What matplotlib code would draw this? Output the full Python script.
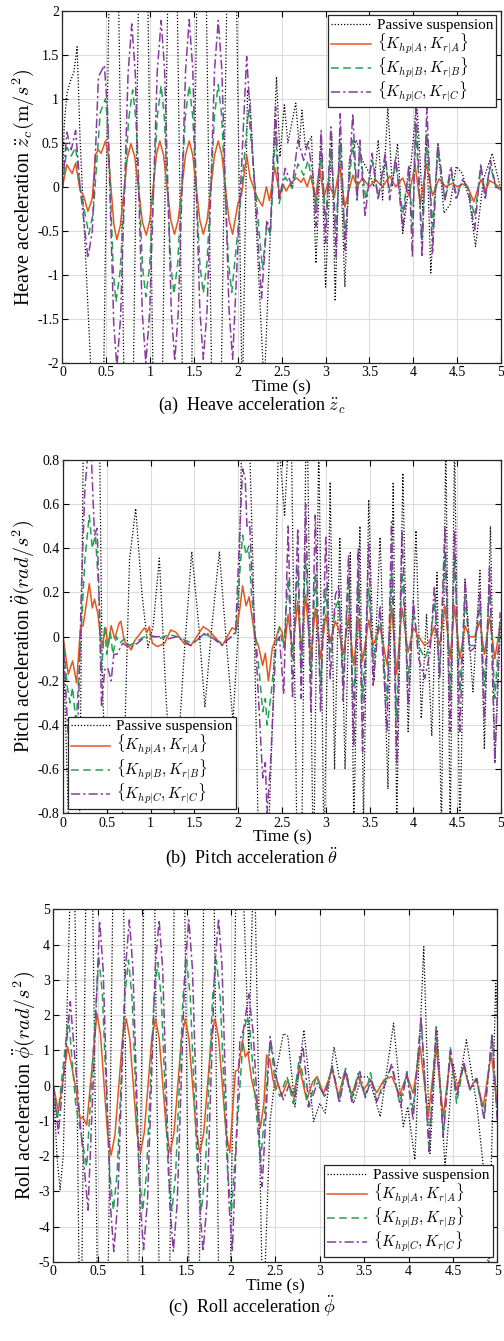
import numpy as np
import matplotlib
matplotlib.use('Agg')
from matplotlib import pyplot as plt
from matplotlib.ticker import FuncFormatter

plt.rcParams['font.family'] = ['Liberation Serif', 'DejaVu Serif']
plt.rcParams['mathtext.fontset'] = 'cm'
plt.rcParams['axes.unicode_minus'] = False

# ---- heave acceleration (m/s^2), (time, value) ----
heave_passive = [(0, 0), (0.02, 0.7), (0.05, 1.06), (0.09, 1.2), (0.13, 1.3), (0.167, 1.59), (0.2, 0.55),
                 (0.32, -2.0), (0.415, -6), (0.585, 6), (0.755, -6), (0.92, 6), (1.085, -6), (1.255, 6),
                 (1.42, -6), (1.585, 6), (1.755, -6), (1.93, 6), (2.05, -2.5), (2.11, 1.1), (2.14, 0.98),
                 (2.3, -2.3), (2.44, 1.25), (2.48, 0.34), (2.53, 0.93), (2.57, 0.5), (2.66, 0.95), (2.7, 0.45),
                 (2.73, 0.87), (2.77, 0.45), (2.84, 0.57), (2.89, -0.87), (2.95, 0.53), (3.0, -1.14),
                 (3.07, 0.6), (3.11, -1.3), (3.16, 0.55), (3.22, -1.14), (3.27, 0.3), (3.35, 0.53),
                 (3.42, 0.3), (3.5, 0.15), (3.55, 0.0), (3.6, 0.53), (3.65, -0.15), (3.71, 0.91), (3.76, 0.0),
                 (3.82, 0.49), (3.88, -0.53), (3.95, 0.0), (4.04, 0.98), (4.11, -0.3), (4.15, 0.6),
                 (4.2, -0.98), (4.28, 0.49), (4.35, -0.3), (4.42, -0.2), (4.49, 0.23), (4.56, 0.15),
                 (4.64, -0.15), (4.71, -0.68), (4.8, 0.08), (4.9, 0.38), (4.99, 0.0)]
heave_A = [(0, 0), (0.05, 0.25), (0.11, 0.15), (0.15, 0.27), (0.2, -0.04), (0.24, -0.1), (0.29, -0.28),
           (0.34, -0.13), (0.375, 0.36), (0.41, 0.42), (0.44, 0.38), (0.49, 0.52), (0.5225, 0.36),
           (0.5875, -0.44), (0.62, -0.6), (0.66, -0.44), (0.74, 0.33), (0.78, 0.49), (0.824, 0.34),
           (0.911, -0.4), (0.955, -0.55), (0.994, -0.39), (1.071, 0.36), (1.11, 0.52), (1.152, 0.36),
           (1.235, -0.38), (1.277, -0.54), (1.319, -0.38), (1.403, 0.36), (1.445, 0.52), (1.485, 0.36),
           (1.566, -0.38), (1.606, -0.54), (1.649, -0.38), (1.734, 0.36), (1.776, 0.52), (1.817, 0.36),
           (1.899, -0.38), (1.94, -0.54), (2.0, -0.19), (2.04, -0.1), (2.1, 0.36), (2.14, 0.1),
           (2.19, -0.04), (2.23, -0.14), (2.28, -0.22), (2.325, 0.0), (2.36, -0.16), (2.42, 0.22),
           (2.48, -0.1), (2.515, 0.03), (2.55, -0.05), (2.6, 0.04), (2.67, 0.1), (2.72, 0.05), (2.75, 0.1),
           (2.79, 0.0), (2.83, 0.13), (2.885, -0.14), (2.93, 0.22), (2.98, -0.12), (3.03, 0.05),
           (3.1, -0.12), (3.16, 0.24), (3.22, -0.23), (3.31, 0.13), (3.36, 0.0), (3.42, 0.1), (3.5, 0.0),
           (3.57, 0.08), (3.65, 0.0), (3.73, 0.12), (3.8, 0.0), (3.88, 0.1), (3.95, -0.1), (4.02, 0.25),
           (4.08, -0.2), (4.15, 0.26), (4.22, -0.1), (4.295, 0.09), (4.37, 0.0), (4.45, 0.04), (4.5, 0.0),
           (4.56, 0.03), (4.62, 0.0), (4.69, -0.17), (4.77, 0.08), (4.83, -0.04), (4.87, 0.07),
           (4.94, 0.03), (5.0, -0.03)]
heave_B = [(0, 0), (0.05, 0.45), (0.1, 0.35), (0.15, 0.45), (0.2, 0.0), (0.3, -0.54), (0.35, -0.3),
           (0.43, 0.84), (0.49, 1.0), (0.52, 0.66), (0.58, -0.97), (0.61, -1.31), (0.6575, -0.96),
           (0.7525, 0.75), (0.8, 1.1), (0.8375, 0.76), (0.9125, -0.91), (0.95, -1.25), (0.994, -0.9),
           (1.081, 0.8), (1.125, 1.15), (1.161, 0.8), (1.234, -0.87), (1.27, -1.22), (1.314, -0.87),
           (1.401, 0.8), (1.445, 1.15), (1.485, 0.8), (1.565, -0.86), (1.605, -1.21), (1.648, -0.86),
           (1.733, 0.81), (1.776, 1.16), (1.815, 0.81), (1.892, -0.85), (1.93, -1.2), (2.0, -0.5),
           (2.12, 0.87), (2.28, -0.93), (2.33, -0.43), (2.37, -0.55), (2.43, 0.63), (2.47, -0.19),
           (2.54, 0.11), (2.62, -0.02), (2.685, 0.26), (2.75, 0.13), (2.8, 0.3), (2.86, 0.0), (2.89, -0.24),
           (2.95, 0.4), (3.0, -0.38), (3.06, 0.42), (3.12, -0.5), (3.167, 0.5), (3.22, -0.57), (3.31, 0.53),
           (3.36, -0.15), (3.39, 0.45), (3.46, -0.15), (3.53, 0.3), (3.6, -0.11), (3.68, 0.3), (3.73, -0.05),
           (3.8, 0.26), (3.88, -0.3), (3.95, 0.2), (3.99, -0.45), (4.03, 0.64), (4.1, -0.6), (4.155, 0.6),
           (4.22, -0.45), (4.28, 0.42), (4.36, -0.15), (4.43, 0.15), (4.49, -0.08), (4.56, 0.06),
           (4.62, 0.0), (4.7, -0.34), (4.77, 0.23), (4.82, -0.08), (4.88, 0.23), (4.94, 0.0), (5.0, -0.04)]
heave_C = [(0, 0), (0.05, 0.62), (0.1, 0.42), (0.15, 0.64), (0.2, 0.0), (0.29, -0.81), (0.34, -0.5),
           (0.41, 1.25), (0.477, 1.38), (0.513, 0.88), (0.584, -1.55), (0.62, -2.05), (0.6625, -1.48),
           (0.7475, 1.28), (0.79, 1.85), (0.83, 1.29), (0.91, -1.44), (0.95, -2.0), (0.994, -1.43),
           (1.081, 1.32), (1.125, 1.89), (1.164, 1.33), (1.241, -1.42), (1.28, -1.98), (1.321, -1.41),
           (1.404, 1.33), (1.445, 1.9), (1.485, 1.34), (1.566, -1.4), (1.606, -1.96), (1.649, -1.4),
           (1.734, 1.33), (1.776, 1.89), (1.817, 1.33), (1.899, -1.4), (1.94, -1.96), (2.1, 1.48),
           (2.27, -1.27), (2.33, -0.38), (2.37, -0.5), (2.43, 0.91), (2.47, -0.15), (2.54, 0.21),
           (2.62, 0.0), (2.685, 0.53), (2.75, 0.3), (2.8, 0.5), (2.86, 0.1), (2.89, -0.45), (2.95, 0.64),
           (3.0, -0.64), (3.06, 0.68), (3.12, -0.8), (3.167, 0.83), (3.22, -0.72), (3.31, 0.83),
           (3.36, -0.15), (3.39, 0.53), (3.45, -0.34), (3.53, 0.38), (3.6, -0.15), (3.68, 0.38),
           (3.73, -0.15), (3.8, 0.34), (3.88, -0.49), (3.95, 0.25), (3.99, -0.8), (4.03, 0.97), (4.1, -0.8),
           (4.155, 0.91), (4.22, -0.76), (4.28, 0.49), (4.36, -0.15), (4.43, 0.23), (4.49, -0.15),
           (4.56, 0.08), (4.62, 0.0), (4.7, -0.49), (4.77, 0.26), (4.82, -0.15), (4.88, 0.3), (4.94, 0.0),
           (5.0, -0.04)]

# ---- pitch acceleration (rad/s^2) ----
pitch_passive = [(0, 0), (0.06, -0.8), (0.125, -1.2), (0.19, -0.8), (0.23, 0.8), (0.32, 1.3), (0.42, 0.8),
                 (0.45, -0.23), (0.51, -0.8), (0.6, -1.0), (0.68, -0.8), (0.76, 0.35), (0.83, 0.58),
                 (0.9, 0.2), (0.97, -0.05), (1.03, 0.05), (1.1, 0.355), (1.18, -0.3), (1.27, -0.8),
                 (1.38, -0.1), (1.47, 0.385), (1.55, 0.05), (1.62, -0.32), (1.7, 0.05), (1.785, 0.385),
                 (1.86, 0.0), (1.94, -0.385), (2.0, 0.02), (2.04, 0.9), (2.1, 1.3), (2.17, 0.3),
                 (2.24, -1.1), (2.32, -1.2), (2.4, -0.3), (2.46, 0.9), (2.53, 0.55), (2.6, 1.1), (2.67, -0.9),
                 (2.72, -1.2), (2.78, 1.2), (2.86, -1.1), (2.92, 0.9), (2.98, -1.0), (3.05, 0.7), (3.1, -0.6),
                 (3.16, 0.45), (3.22, -0.6), (3.28, 0.38), (3.32, -0.85), (3.39, 0.5), (3.43, -0.85),
                 (3.49, 0.62), (3.55, -0.2), (3.62, 0.45), (3.71, -0.69), (3.77, 0.7), (3.81, -0.85),
                 (3.88, 0.74), (3.94, -0.43), (4.03, 0.48), (4.09, -0.37), (4.15, 0.1), (4.21, -0.45),
                 (4.27, 0.29), (4.32, -0.9), (4.37, 0.9), (4.42, -0.9), (4.47, 0.9), (4.53, -0.9),
                 (4.59, 0.26), (4.68, -0.25), (4.76, 0.3), (4.81, -0.51), (4.88, 0.5), (4.93, -0.57),
                 (5.0, 0.1)]
pitch_A = [(0, 0), (0.06, -0.17), (0.11, -0.11), (0.155, -0.21), (0.2, 0.04), (0.23, 0.05), (0.3, 0.24),
           (0.335, 0.13), (0.36, 0.17), (0.4, 0.1), (0.44, -0.05), (0.49, 0.04), (0.51, -0.05), (0.55, 0.05),
           (0.59, -0.01), (0.64, 0.06), (0.66, 0.07), (0.7, -0.02), (0.78, -0.06), (0.815, -0.02),
           (0.93, 0.04), (0.96, 0.02), (0.985, 0.045), (1.02, -0.03), (1.08, -0.045), (1.16, -0.03),
           (1.23, 0.03), (1.29, 0.02), (1.38, -0.03), (1.46, -0.04), (1.6, 0.045), (1.66, 0.03),
           (1.82, -0.04), (1.93, 0.04), (1.98, 0.03), (2.02, 0.13), (2.05, 0.23), (2.09, 0.14),
           (2.125, 0.18), (2.19, 0.0), (2.23, -0.04), (2.28, -0.13), (2.31, -0.075), (2.345, -0.2),
           (2.39, -0.05), (2.43, -0.01), (2.47, 0.045), (2.5, 0.02), (2.53, -0.05), (2.57, 0.1),
           (2.62, -0.07), (2.68, 0.16), (2.72, -0.07), (2.77, 0.19), (2.83, -0.1), (2.88, 0.13),
           (2.94, -0.1), (3.0, 0.1), (3.05, -0.02), (3.11, 0.07), (3.15, 0.03), (3.2, -0.08), (3.26, 0.09),
           (3.32, -0.13), (3.37, 0.08), (3.42, -0.11), (3.49, 0.075), (3.54, -0.04), (3.62, 0.045),
           (3.7, -0.13), (3.75, 0.14), (3.81, -0.17), (3.87, 0.13), (3.94, -0.07), (4.0, 0.04), (4.06, 0.0),
           (4.13, -0.04), (4.19, -0.02), (4.24, 0.045), (4.3, -0.04), (4.36, 0.14), (4.42, -0.1),
           (4.47, 0.14), (4.53, -0.1), (4.59, 0.05), (4.64, 0.0), (4.7, 0.0), (4.76, 0.07), (4.81, -0.08),
           (4.87, 0.09), (4.93, -0.1), (4.99, 0.05)]
pitch_B = [(0, 0), (0.05, -0.23), (0.08, -0.3), (0.11, -0.23), (0.15, -0.4), (0.19, -0.11), (0.21, 0.05),
           (0.25, 0.35), (0.3, 0.55), (0.335, 0.4), (0.37, 0.46), (0.41, 0.2), (0.44, -0.16), (0.475, 0.05),
           (0.5, -0.08), (0.54, 0.02), (0.57, -0.08), (0.61, 0.0), (0.645, -0.03), (0.7, -0.01),
           (0.76, -0.04), (0.85, -0.02), (0.93, 0.0), (0.985, 0.01), (1.1, -0.01), (1.21, 0.01), (1.3, 0.0),
           (1.475, -0.03), (1.63, 0.01), (1.815, -0.03), (1.97, 0.01), (2.02, 0.3), (2.05, 0.46),
           (2.09, 0.37), (2.12, 0.41), (2.15, 0.2), (2.19, 0.02), (2.24, -0.16), (2.28, -0.34),
           (2.31, -0.28), (2.33, -0.4), (2.37, -0.28), (2.43, -0.04), (2.47, 0.04), (2.52, -0.05),
           (2.57, 0.26), (2.62, -0.1), (2.68, 0.32), (2.72, -0.16), (2.77, 0.37), (2.83, -0.19),
           (2.88, 0.29), (2.94, -0.22), (3.0, 0.22), (3.05, -0.07), (3.11, 0.13), (3.15, 0.17), (3.2, -0.2),
           (3.26, 0.26), (3.32, -0.32), (3.37, 0.26), (3.42, -0.28), (3.49, 0.22), (3.54, -0.11),
           (3.62, 0.1), (3.7, -0.29), (3.75, 0.32), (3.81, -0.37), (3.87, 0.29), (3.94, -0.19), (4.0, 0.11),
           (4.06, -0.04), (4.13, -0.1), (4.19, -0.04), (4.24, 0.16), (4.3, -0.16), (4.36, 0.38),
           (4.42, -0.26), (4.47, 0.35), (4.53, -0.25), (4.59, 0.17), (4.64, -0.04), (4.7, -0.04),
           (4.76, 0.14), (4.81, -0.22), (4.87, 0.22), (4.93, -0.28), (4.99, 0.08)]
pitch_C = [(0, 0), (0.04, -0.31), (0.07, -0.54), (0.1, -0.62), (0.12, -0.5), (0.15, -0.64), (0.185, -0.2),
           (0.21, 0.22), (0.25, 0.67), (0.29, 0.86), (0.325, 0.8), (0.36, 0.46), (0.39, 0.49), (0.41, 0.2),
           (0.44, -0.32), (0.475, -0.15), (0.51, -0.14), (0.55, -0.2), (0.58, -0.08), (0.615, -0.08),
           (0.68, -0.03), (0.76, -0.05), (0.85, -0.03), (0.91, -0.01), (0.97, 0.0), (1.1, 0.0),
           (1.2, -0.01), (1.3, 0.0), (1.46, -0.04), (1.63, 0.02), (1.815, -0.04), (1.97, 0.02), (2.01, 0.4),
           (2.05, 0.76), (2.08, 0.72), (2.1, 0.5), (2.13, 0.52), (2.16, 0.26), (2.2, -0.04), (2.24, -0.34),
           (2.28, -0.64), (2.31, -0.57), (2.33, -0.8), (2.37, -0.57), (2.43, -0.04), (2.47, 0.0),
           (2.52, -0.26), (2.57, 0.5), (2.62, -0.28), (2.68, 0.49), (2.72, -0.28), (2.77, 0.6),
           (2.83, -0.34), (2.88, 0.55), (2.94, -0.34), (3.0, 0.45), (3.05, -0.19), (3.11, 0.19),
           (3.15, 0.23), (3.2, -0.29), (3.26, 0.37), (3.32, -0.49), (3.37, 0.4), (3.42, -0.52), (3.49, 0.42),
           (3.54, -0.22), (3.62, 0.14), (3.7, -0.43), (3.75, 0.52), (3.81, -0.58), (3.87, 0.48),
           (3.94, -0.31), (4.0, 0.16), (4.06, -0.1), (4.13, -0.19), (4.19, -0.07), (4.24, 0.23),
           (4.3, -0.19), (4.36, 0.5), (4.42, -0.43), (4.47, 0.48), (4.53, -0.43), (4.59, 0.26),
           (4.64, -0.07), (4.7, -0.05), (4.76, 0.2), (4.81, -0.38), (4.87, 0.32), (4.93, -0.57), (4.99, 0.11)]

# ---- roll acceleration (rad/s^2) ----
roll_passive = [(0, 0), (0.04, -2.0), (0.075, -2.95), (0.11, -2.0), (0.225, 9), (0.305, -9), (0.40, 14),
                (0.555, -18), (0.73, 18), (0.9, -18), (1.08, 18), (1.25, -18), (1.42, 18), (1.585, -18),
                (1.75, 18), (1.92, -18), (2.08, 10), (2.2, 0.9), (2.26, 7), (2.36, -7), (2.44, -1.0),
                (2.5, 0.3), (2.59, 1.48), (2.64, 1.4), (2.72, -0.6), (2.82, 1.58), (2.93, -1.02), (3.0, -0.5),
                (3.06, -0.78), (3.16, 1.1), (3.22, 0.2), (3.29, 0.3), (3.38, -0.5), (3.47, 0.25), (3.55, 0.25),
                (3.68, -0.88), (3.83, 1.77), (3.94, -1.16), (3.99, -0.6), (4.07, -2.1), (4.17, 3.94),
                (4.24, -1.92), (4.32, 1.58), (4.41, -2.3), (4.5, 0.63), (4.56, -0.1), (4.65, 1.3),
                (4.77, -0.6), (4.86, -2.77), (4.9, -5.5), (4.98, 2.9), (5.0, 1.9)]
roll_A = [(0, 0), (0.056, -0.74), (0.16, 1.1), (0.2, 0.63), (0.26, -0.2), (0.3, -0.95), (0.33, -0.88),
          (0.375, -1.12), (0.49, 2.05), (0.53, 1.46), (0.61, -1.38), (0.65, -1.97), (0.6925, -1.41),
          (0.7775, 1.33), (0.82, 1.9), (0.86, 1.34), (0.94, -1.34), (0.98, -1.9), (1.0225, -1.34),
          (1.1075, 1.34), (1.15, 1.9), (1.191, 1.34), (1.274, -1.34), (1.315, -1.9), (1.3575, -1.34),
          (1.4425, 1.34), (1.485, 1.9), (1.526, 1.34), (1.609, -1.34), (1.65, -1.9), (1.6925, -1.34),
          (1.7775, 1.34), (1.82, 1.9), (1.861, 1.34), (1.944, -1.34), (1.985, -1.9), (2.05, 0.42),
          (2.08, 0.44), (2.13, 1.3), (2.16, 0.82), (2.19, 0.95), (2.23, 0.2), (2.29, -0.5), (2.33, -1.2),
          (2.37, -0.5), (2.4, 0.87), (2.44, 0.73), (2.47, 0.2), (2.5, -0.12), (2.53, 0.07), (2.57, -0.3),
          (2.64, 0.16), (2.7, -0.3), (2.77, 0.54), (2.85, -0.4), (2.92, 0.11), (2.97, 0.26), (3.04, -0.22),
          (3.14, 0.45), (3.21, -0.31), (3.28, 0.4), (3.36, -0.26), (3.43, 0.26), (3.49, -0.12),
          (3.57, 0.16), (3.64, -0.2), (3.72, 0.16), (3.81, 0.26), (3.9, -0.26), (3.98, 0.3), (4.05, -0.22),
          (4.13, 1.1), (4.22, -0.88), (4.31, 1.1), (4.39, -0.88), (4.47, 0.82), (4.54, -0.12), (4.62, 0.54),
          (4.69, -0.1), (4.76, 0.2), (4.84, -0.6), (4.93, 0.92), (5.0, -0.6)]
roll_B = [(0, 0), (0.045, -0.97), (0.17, 1.96), (0.25, -0.5), (0.375, -2.3), (0.51, 3.66), (0.551, 2.61),
          (0.634, -2.48), (0.675, -3.53), (0.7175, -2.49), (0.8025, 2.52), (0.845, 3.56), (0.885, 2.52),
          (0.965, -2.51), (1.005, -3.55), (1.0475, -2.51), (1.1325, 2.46), (1.175, 3.5), (1.215, 2.46),
          (1.295, -2.51), (1.335, -3.55), (1.376, -2.51), (1.459, 2.52), (1.5, 3.56), (1.541, 2.52),
          (1.624, -2.51), (1.665, -3.55), (1.7075, -2.51), (1.7925, 2.52), (1.835, 3.56), (1.8775, 2.52),
          (1.9625, -2.53), (2.005, -3.57), (2.14, 1.48), (2.18, 1.96), (2.21, 1.7), (2.33, -2.2),
          (2.39, -0.5), (2.42, 0.82), (2.45, 1.2), (2.5, -0.03), (2.55, -0.3), (2.63, 0.26), (2.7, -0.5),
          (2.77, 0.82), (2.87, -0.6), (2.96, 0.26), (3.05, -0.3), (3.14, 0.55), (3.22, -0.41), (3.29, 0.49),
          (3.36, -0.35), (3.43, 0.35), (3.51, -0.31), (3.57, 0.37), (3.64, -0.45), (3.72, 0.1), (3.81, 0.54),
          (3.9, -0.5), (3.98, 0.4), (4.05, -0.69), (4.14, 1.86), (4.23, -1.73), (4.31, 1.67), (4.39, -1.35),
          (4.47, 1.1), (4.54, -0.5), (4.62, 0.63), (4.69, -0.12), (4.76, 0.2), (4.85, -0.88), (4.94, 1.39),
          (5.0, -0.97)]
roll_C = [(0, 0), (0.056, -1.35), (0.19, 2.38), (0.3, -1.0), (0.39, -3.53), (0.52, 4.67), (0.56, 3.3),
          (0.64, -3.33), (0.68, -4.7), (0.724, -3.33), (0.811, 3.33), (0.855, 4.7), (0.895, 3.33),
          (0.975, -3.28), (1.015, -4.65), (1.059, -3.28), (1.146, 3.33), (1.19, 4.7), (1.23, 3.33),
          (1.31, -3.33), (1.35, -4.7), (1.394, -3.33), (1.481, 3.33), (1.525, 4.7), (1.565, 3.33),
          (1.645, -3.33), (1.685, -4.7), (1.729, -3.33), (1.816, 3.36), (1.86, 4.74), (1.899, 3.36),
          (1.976, -3.32), (2.015, -4.7), (2.1, 1.3), (2.14, 1.58), (2.2, 2.6), (2.25, 1.48), (2.35, -2.86),
          (2.4, -0.5), (2.44, 1.39), (2.52, 0.1), (2.59, -0.4), (2.65, 0.0), (2.72, -0.31), (2.81, 1.1),
          (2.88, -0.6), (2.97, 0.07), (3.06, -0.31), (3.14, 0.56), (3.22, -0.5), (3.29, 0.44), (3.36, -0.45),
          (3.45, 0.4), (3.51, -0.36), (3.58, 0.2), (3.64, -0.45), (3.74, 0.07), (3.81, 0.63), (3.91, -0.6),
          (3.98, 0.35), (4.05, -0.97), (4.14, 1.96), (4.23, -1.87), (4.31, 1.58), (4.39, -1.45), (4.47, 1.0),
          (4.54, -0.31), (4.62, 0.68), (4.69, -0.1), (4.77, 0.2), (4.85, -0.97), (4.94, 1.48), (5.0, -1.07)]

labels = ['Passive suspension', r'$\{K_{hp|A},K_{r|A}\}$', r'$\{K_{hp|B},K_{r|B}\}$',
          r'$\{K_{hp|C},K_{r|C}\}$']
styles = [dict(color='black', ls=(0, (1, 1.5)), lw=0.9),
          dict(color='#E4561F', ls='-', lw=1.1),
          dict(color='#1FA352', ls=(0, (5, 3)), lw=1.1),
          dict(color='#8A3B9E', ls=(0, (6, 2, 1.5, 2)), lw=1.1)]

fig = plt.figure(figsize=(5.04, 13.41), dpi=100)
ax1 = fig.add_axes([0.124, 0.7295, 0.870, 0.2625])
ax2 = fig.add_axes([0.125, 0.3935, 0.869, 0.2635])
ax3 = fig.add_axes([0.106, 0.0589, 0.881, 0.263])

panels = [
    (ax1, [heave_passive, heave_A, heave_B, heave_C], (-2, 2), np.arange(-2, 2.01, 0.5),
     r'Heave acceleration $\ddot{z}_c(\mathrm{m}/s^2)$', 'upper right',
     r'(a)  Heave acceleration $\ddot{z}_c$', 0.6975),
    (ax2, [pitch_passive, pitch_A, pitch_B, pitch_C], (-0.8, 0.8), np.arange(-0.8, 0.81, 0.2),
     r'Pitch acceleration $\ddot{\theta}(rad/s^2)$', 'lower left',
     r'(b)  Pitch acceleration $\ddot{\theta}$', 0.3608),
    (ax3, [roll_passive, roll_A, roll_B, roll_C], (-5, 5), np.arange(-5, 5.01, 1),
     r'Roll acceleration $\ddot{\phi}(rad/s^2)$', 'lower right',
     r'(c)  Roll acceleration $\ddot{\phi}$', 0.0260),
]

fmt = FuncFormatter(lambda v, p: '%g' % (round(v, 3) + 0.0))
for ax, series, ylim, yticks, ylabel, loc, caption, cy in panels:
    for s, st, lab in zip(series, styles, labels):
        t, v = zip(*s)
        ax.plot(t, v, label=lab, **st)
    ax.set_xlim(0, 5)
    ax.set_ylim(*ylim)
    ax.set_xticks(np.arange(0, 5.01, 0.5))
    ax.set_yticks(yticks)
    ax.xaxis.set_major_formatter(fmt)
    ax.yaxis.set_major_formatter(fmt)
    ax.grid(True, color='#dcdcdc', lw=0.8)
    ax.set_axisbelow(True)
    ax.tick_params(direction='in', top=True, right=True, labelsize=10, length=4, width=0.8, pad=2.5)
    for sp in ax.spines.values():
        sp.set_linewidth(0.9)
        sp.set_color('#262626')
    ax.set_xlabel('Time (s)', fontsize=12.5, labelpad=0)
    ax.set_ylabel(ylabel, fontsize=14.5, labelpad=1)
    leg = ax.legend(loc=loc, fontsize=11, fancybox=False, framealpha=1, edgecolor='#262626',
                    handlelength=2.6, handletextpad=0.4, labelspacing=0.0, borderpad=0.2,
                    borderaxespad=0.3)
    leg.get_frame().set_linewidth(0.9)
    fig.text(0.5, cy, caption, ha='center', va='center', fontsize=13)

fig.savefig('out.png', dpi=100)
